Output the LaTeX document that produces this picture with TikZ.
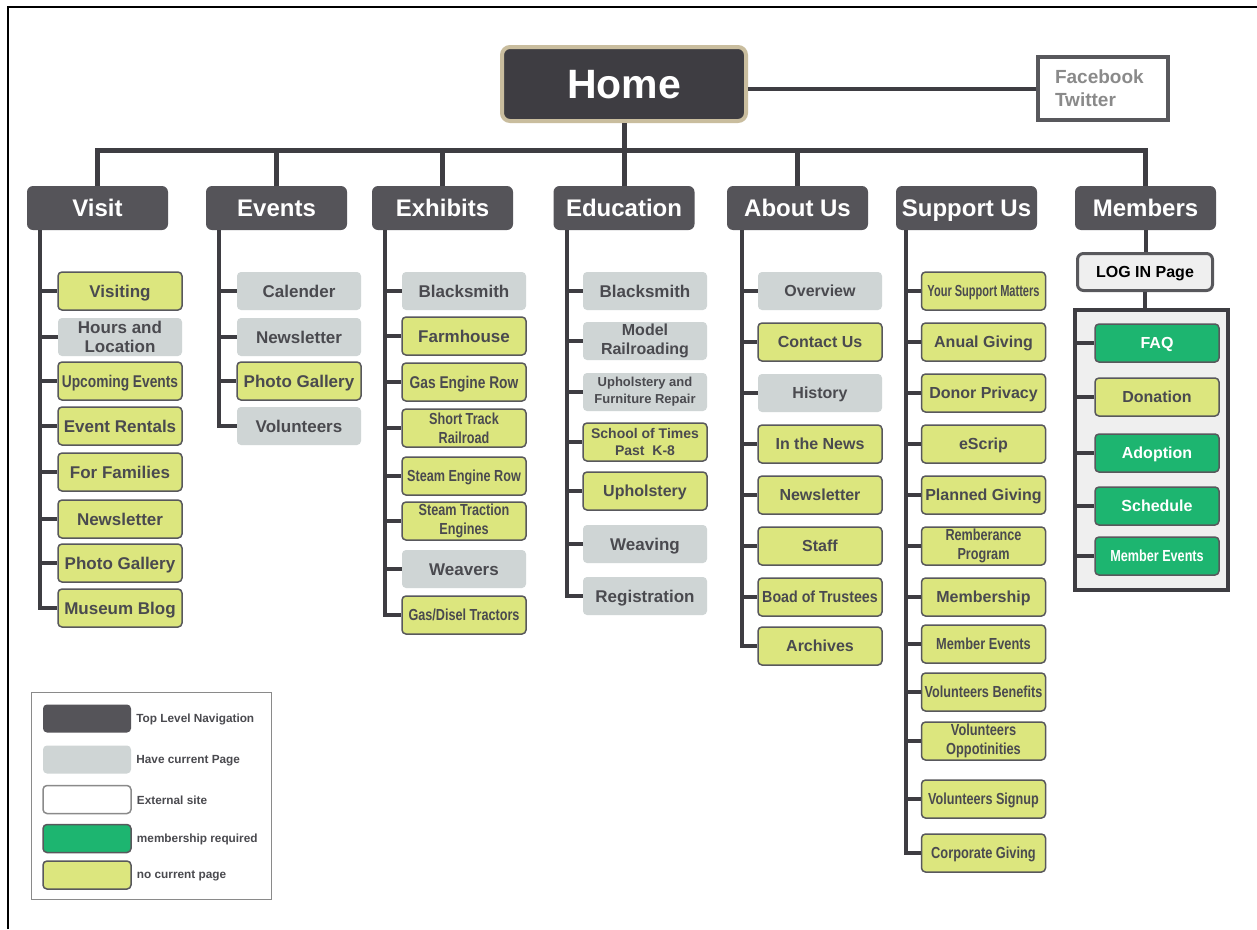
\documentclass[tikz,border=0pt]{standalone}
\usepackage{fontspec}
\setmainfont{Liberation Sans}
\usepackage{graphicx}
\definecolor{topc}{HTML}{555459}
\definecolor{homec}{HTML}{3E3D42}
\definecolor{tanc}{HTML}{C9BD9E}
\definecolor{yelc}{HTML}{DCE67E}
\definecolor{gryc}{HTML}{CFD5D5}
\definecolor{grnc}{HTML}{1DB570}
\definecolor{edgec}{HTML}{58585C}
\definecolor{txtc}{HTML}{4A4A4F}
\definecolor{linec}{HTML}{3E3D42}
\definecolor{panelc}{HTML}{EFEFEF}
\definecolor{fbtxt}{HTML}{8A8A8A}
\newcommand\nw[2]{\scalebox{#1}[1]{#2}}
\begin{document}
\begin{tikzpicture}[x=1pt,y=-1pt,
  topbox/.style={rectangle, rounded corners=6pt, fill=topc, text=white, minimum width=141pt, minimum height=44pt, inner sep=0pt, text height=17.2pt, text depth=0pt, font=\fontsize{24}{28}\selectfont\bfseries},
  basebox/.style={rectangle, rounded corners=4pt, minimum width=124pt, minimum height=38pt, inner sep=0pt, align=center, text=txtc, text height=12.2pt, text depth=0pt, font=\fontsize{17}{19}\selectfont\bfseries},
  yel/.style={basebox, fill=yelc, draw=edgec, line width=1.5pt},
  gry/.style={basebox, fill=gryc},
  grn/.style={basebox, fill=grnc, draw=edgec, line width=1.5pt, text=white, text height=11.5pt, font=\fontsize{16}{19}\selectfont\bfseries},
  f16/.style={text height=11.5pt, font=\fontsize{16}{19}\selectfont\bfseries},
  f14/.style={font=\fontsize{14}{17}\selectfont\bfseries},
  f13/.style={font=\fontsize{13}{17}\selectfont\bfseries},
  multi/.style={text height={}, text depth={}},
  conn/.style={draw=linec, line width=4pt},
  busline/.style={draw=linec, line width=5pt},
  swatch/.style={rectangle, rounded corners=4pt, minimum width=88pt, minimum height=28pt, inner sep=0pt},
  legtext/.style={anchor=west, inner sep=0pt, text=txtc, font=\fontsize{11.8}{13}\selectfont\bfseries}
]
\useasboundingbox (0,0) rectangle (1257,929);
\fill[white] (0,0) rectangle (1257,929);
% frame
\draw[line width=2.5pt, black] (8,929) -- (8,7) -- (1257,7);

% home and external
\node[rectangle, rounded corners=8pt, fill=homec, draw=tanc, line width=4pt, minimum width=244pt, minimum height=74pt, inner sep=0pt, text=white, text height=29.5pt, text depth=0pt, font=\fontsize{41}{45}\selectfont\bfseries] (home) at (624,84) {Home};
\node[rectangle, draw=edgec, line width=4pt, fill=white, minimum width=130pt, minimum height=63pt, inner sep=0pt, text width=96pt, align=left, text=fbtxt, font=\fontsize{19}{23}\selectfont\bfseries] (fb) at (1103,88.5) {Facebook\\Twitter};
\draw[conn] (fb.west) -- (fb.west -| home.east);

% top level
\node[topbox] (visit) at (97.5,208) {Visit};
\node[topbox] (events) at (276.5,208) {Events};
\node[topbox] (exhibits) at (442.5,208) {Exhibits};
\node[topbox] (education) at (624,208) {Education};
\node[topbox] (about) at (797.5,208) {About Us};
\node[topbox] (support) at (966.5,208) {Support Us};
\node[topbox] (members) at (1145.5,208) {Members};

\coordinate (bus) at (0,150);
\draw[busline] (visit.north) |- (members.north |- bus) -- (members.north);
\draw[busline] (home.south) -- (home.south |- bus);
\draw[busline] (events.north) -- (events.north |- bus);
\draw[busline] (exhibits.north) -- (exhibits.north |- bus);
\draw[busline] (education.north) -- (education.north |- bus);
\draw[busline] (about.north) -- (about.north |- bus);

% Visit
\node[yel] (v1) at (120,291) {Visiting};
\node[gry, multi] (v2) at (120,337) {Hours and\\Location};
\node[yel] (v3) at (120,381) {\nw{0.81}{Upcoming Events}};
\node[yel] (v4) at (120,426) {Event Rentals};
\node[yel] (v5) at (120,472) {For Families};
\node[yel] (v6) at (120,519) {Newsletter};
\node[yel] (v7) at (120,563) {Photo Gallery};
\node[yel] (v8) at (120,608) {Museum Blog};
\foreach \i in {1,...,8} \draw[conn] ([xshift=13pt]visit.south west) |- (v\i.west);

% Events
\node[gry] (e1) at (299,291) {Calender};
\node[gry] (e2) at (299,337) {Newsletter};
\node[yel] (e3) at (299,381) {Photo Gallery};
\node[gry] (e4) at (299,426) {Volunteers};
\foreach \i in {1,...,4} \draw[conn] ([xshift=13pt]events.south west) |- (e\i.west);

% Exhibits
\node[gry] (x1) at (464,291) {Blacksmith};
\node[yel] (x2) at (464,336) {Farmhouse};
\node[yel] (x3) at (464,382) {\nw{0.81}{Gas Engine Row}};
\node[yel, f16, multi] (x4) at (464,428) {\nw{0.79}{Short Track}\\\nw{0.79}{Railroad}};
\node[yel, f16] (x5) at (464,476) {\nw{0.79}{Steam Engine Row}};
\node[yel, f16, multi] (x6) at (464,521) {\nw{0.79}{Steam Traction}\\\nw{0.79}{Engines}};
\node[gry] (x7) at (464,569) {Weavers};
\node[yel, f16] (x8) at (464,615) {\nw{0.79}{Gas/Disel Tractors}};
\foreach \i in {1,...,8} \draw[conn] ([xshift=13pt]exhibits.south west) |- (x\i.west);

% Education
\node[gry] (d1) at (645,291) {Blacksmith};
\node[gry, f16, multi] (d2) at (645,341) {Model\\Railroading};
\node[gry, f13, multi] (d3) at (645,392) {Upholstery and\\Furniture Repair};
\node[yel, f14, multi] (d4) at (645,442) {School of Times\\Past\ \ K-8};
\node[yel, f16] (d5) at (645,491) {Upholstery};
\node[gry] (d6) at (645,544) {Weaving};
\node[gry] (d7) at (645,596) {Registration};
\foreach \i in {1,...,7} \draw[conn] ([xshift=13.5pt]education.south west) |- (d\i.west);

% About Us
\node[gry, f16] (a1) at (820,291) {Overview};
\node[yel, f16] (a2) at (820,342) {Contact Us};
\node[gry, f16] (a3) at (820,393) {History};
\node[yel, f16] (a4) at (820,444) {In the News};
\node[yel, f16] (a5) at (820,495) {Newsletter};
\node[yel, f16] (a6) at (820,546) {Staff};
\node[yel, f16] (a7) at (820,597) {\nw{0.89}{Boad of Trustees}};
\node[yel, f16] (a8) at (820,646) {Archives};
\foreach \i in {1,...,8} \draw[conn] ([xshift=15pt]about.south west) |- (a\i.west);

% Support Us
\node[yel, f16] (s1) at (983.5,291) {\nw{0.69}{Your Support Matters}};
\node[yel, f16] (s2) at (983.5,342) {Anual Giving};
\node[yel, f16] (s3) at (983.5,393) {Donor Privacy};
\node[yel, f16] (s4) at (983.5,444) {eScrip};
\node[yel, f16] (s5) at (983.5,495) {Planned Giving};
\node[yel, f16, multi] (s6) at (983.5,546) {\nw{0.79}{Remberance}\\\nw{0.79}{Program}};
\node[yel, f16] (s7) at (983.5,597) {Membership};
\node[yel, f16] (s8) at (983.5,644) {\nw{0.8}{Member Events}};
\node[yel, f16] (s9) at (983.5,692) {\nw{0.79}{Volunteers Benefits}};
\node[yel, f16, multi] (s10) at (983.5,741) {\nw{0.8}{Volunteers}\\\nw{0.8}{Oppotinities}};
\node[yel, f16] (s11) at (983.5,799) {\nw{0.79}{Volunteers Signup}};
\node[yel, f16] (s12) at (983.5,853) {\nw{0.8}{Corporate Giving}};
\foreach \i in {1,...,12} \draw[conn] ([xshift=10pt]support.south west) |- (s\i.west);

% Members
\node[rectangle, rounded corners=6pt, fill=panelc, draw=edgec, line width=3pt, minimum width=135pt, minimum height=37pt, inner sep=0pt, text=black, text height=11.5pt, text depth=0pt, font=\fontsize{16}{19}\selectfont\bfseries] (login) at (1145,272) {LOG IN Page};
\node[rectangle, fill=panelc, draw=linec, line width=4pt, minimum width=153pt, minimum height=280pt, inner sep=0pt] (panel) at (1151.5,450) {};
\draw[conn] (members.south) -- (members.south |- login.north);
\draw[conn] (login.south) -- (login.south |- panel.north);
\node[grn] (m1) at (1157,343) {FAQ};
\node[yel, f16] (m2) at (1157,397) {Donation};
\node[grn] (m3) at (1157,453) {Adoption};
\node[grn] (m4) at (1157,506) {Schedule};
\node[grn] (m5) at (1157,556) {\nw{0.79}{Member Events}};
\foreach \i in {1,...,5} \draw[conn] (m\i.west) -- (m\i.west -| panel.west);

% Legend
\node[rectangle, draw=fbtxt, line width=1pt, minimum width=240pt, minimum height=207pt, inner sep=0pt] (legend) at (151,795.5) {};
\node[swatch, fill=topc] (l1) at (87,718.5) {};
\node[swatch, fill=gryc] (l2) at (87,759.5) {};
\node[swatch, fill=white, draw=fbtxt, line width=1.5pt] (l3) at (87,799.5) {};
\node[swatch, fill=grnc, draw=edgec, line width=1.5pt] (l4) at (87,838.5) {};
\node[swatch, fill=yelc, draw=edgec, line width=1.5pt] (l5) at (87,875) {};
\node[legtext] (t1) at ([xshift=5pt,yshift=-1pt]l1.east) {Top Level Navigation};
\node[legtext] (t2) at ([xshift=5pt,yshift=-1pt]l2.east) {Have current Page};
\node[legtext] (t3) at ([xshift=5pt,yshift=-1pt]l3.east) {External site};
\node[legtext] (t4) at ([xshift=5pt,yshift=-1pt]l4.east) {membership required};
\node[legtext] (t5) at ([xshift=5pt,yshift=-1pt]l5.east) {no current page};
\end{tikzpicture}
\end{document}
